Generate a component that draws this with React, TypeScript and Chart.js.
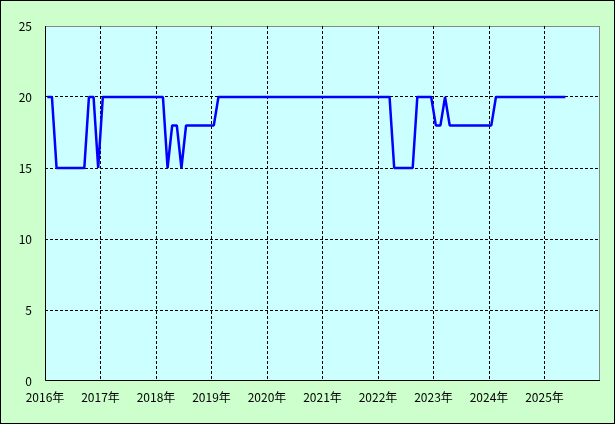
import { useEffect, useRef } from "react";
import { Chart, registerables } from "chart.js";

Chart.register(...registerables);

// Monthly values, Jan 2016 .. May 2025
const values2016 = [20, 20, 15, 15, 15, 15, 15, 15, 15, 20, 20, 15];
const values2017 = [20, 20, 20, 20, 20, 20, 20, 20, 20, 20, 20, 20];
const values2018 = [20, 20, 15, 18, 18, 15, 18, 18, 18, 18, 18, 18];
const values2019 = [18, 20, 20, 20, 20, 20, 20, 20, 20, 20, 20, 20];
const values2020 = [20, 20, 20, 20, 20, 20, 20, 20, 20, 20, 20, 20];
const values2021 = [20, 20, 20, 20, 20, 20, 20, 20, 20, 20, 20, 20];
const values2022 = [20, 20, 20, 15, 15, 15, 15, 15, 20, 20, 20, 20];
const values2023 = [18, 18, 20, 18, 18, 18, 18, 18, 18, 18, 18, 18];
const values2024 = [18, 20, 20, 20, 20, 20, 20, 20, 20, 20, 20, 20];
const values2025 = [20, 20, 20, 20, 20];

const seriesValues = [
  ...values2016, ...values2017, ...values2018, ...values2019, ...values2020,
  ...values2021, ...values2022, ...values2023, ...values2024, ...values2025,
];

const yearLabels = [
  "2016年", "2017年", "2018年", "2019年", "2020年",
  "2021年", "2022年", "2023年", "2024年", "2025年",
];
const monthsPerYear = 12;
const yMin = 0;
const yMax = 25;
const yStep = 5;

const FONT = "'Noto Sans CJK JP', 'DejaVu Sans', sans-serif";

const framePlugin = {
  id: "framePlugin",
  beforeDraw(chart: any) {
    const { ctx, width, height, chartArea } = chart;
    ctx.save();
    ctx.fillStyle = "#ccffcc";
    ctx.fillRect(0, 0, width, height);
    ctx.strokeStyle = "#000";
    ctx.lineWidth = 1;
    ctx.strokeRect(0.5, 0.5, width - 1, height - 1);
    ctx.fillStyle = "#ccffff";
    ctx.fillRect(chartArea.left, chartArea.top, chartArea.right - chartArea.left, chartArea.bottom - chartArea.top);
    ctx.strokeStyle = "#888888";
    ctx.strokeRect(Math.round(chartArea.left) + 0.5, Math.round(chartArea.top) + 0.5,
      Math.round(chartArea.right - chartArea.left) - 1, Math.round(chartArea.bottom - chartArea.top) - 1);
    ctx.restore();
  },
  afterDraw(chart: any) {
    const { ctx, chartArea } = chart;
    ctx.save();
    ctx.strokeStyle = "#000";
    ctx.lineWidth = 1;
    ctx.setLineDash([]);
    const l = Math.round(chartArea.left) + 0.5;
    const b = Math.round(chartArea.bottom) - 0.5;
    ctx.beginPath();
    ctx.moveTo(l, Math.round(chartArea.top));
    ctx.lineTo(l, b);
    ctx.lineTo(Math.round(chartArea.right), b);
    ctx.stroke();
    ctx.restore();
  },
};

export default function App() {
  const ref = useRef<HTMLCanvasElement>(null);
  useEffect(() => {
    document.body.style.margin = "0";
    const canvas = ref.current;
    if (!canvas) return;
    const points = seriesValues.map((v, i) => ({ x: i + 0.5, y: v }));
    const totalMonths = yearLabels.length * monthsPerYear;
    const chart = new Chart(canvas, {
      type: "line",
      data: {
        datasets: [
          {
            data: points,
            borderColor: "#0000ff",
            borderWidth: 2.5,
            borderJoinStyle: "bevel",
            pointRadius: 0,
            tension: 0,
            fill: false,
          },
        ],
      },
      options: {
        animation: false,
        responsive: false,
        devicePixelRatio: 1,
        layout: { padding: { left: 0, top: 26, right: 15, bottom: 0 } },
        plugins: { legend: { display: false }, tooltip: { enabled: false } },
        scales: {
          x: {
            type: "linear",
            min: 0,
            max: totalMonths,
            afterFit(scale: any) {
              scale.height = 43;
            },
            ticks: {
              stepSize: monthsPerYear,
              autoSkip: false,
              maxRotation: 0,
              padding: 9,
              color: "#000",
              font: { family: FONT, size: 12 },
              callback: (v: any) => yearLabels[Math.round(Number(v) / monthsPerYear)] ?? "",
            },
            grid: {
              drawTicks: false,
              lineWidth: 1,
              color: (c: any) =>
                c.tick && (c.tick.value === 0 || c.tick.value === totalMonths) ? "rgba(0,0,0,0)" : "#000",
            },
            border: { display: false, dash: [3, 2] },
          },
          y: {
            min: yMin,
            max: yMax,
            afterFit(scale: any) {
              scale.width = 45;
            },
            ticks: {
              stepSize: yStep,
              padding: 13,
              color: "#000",
              font: { family: FONT, size: 12 },
            },
            grid: {
              drawTicks: false,
              lineWidth: 1,
              color: (c: any) =>
                c.tick && (c.tick.value === yMin || c.tick.value === yMax) ? "rgba(0,0,0,0)" : "#000",
            },
            border: { display: false, dash: [3, 2] },
          },
        },
      },
      plugins: [framePlugin],
    });
    return () => chart.destroy();
  }, []);
  return <canvas ref={ref} width={615} height={424} style={{ display: "block" }} />;
}
